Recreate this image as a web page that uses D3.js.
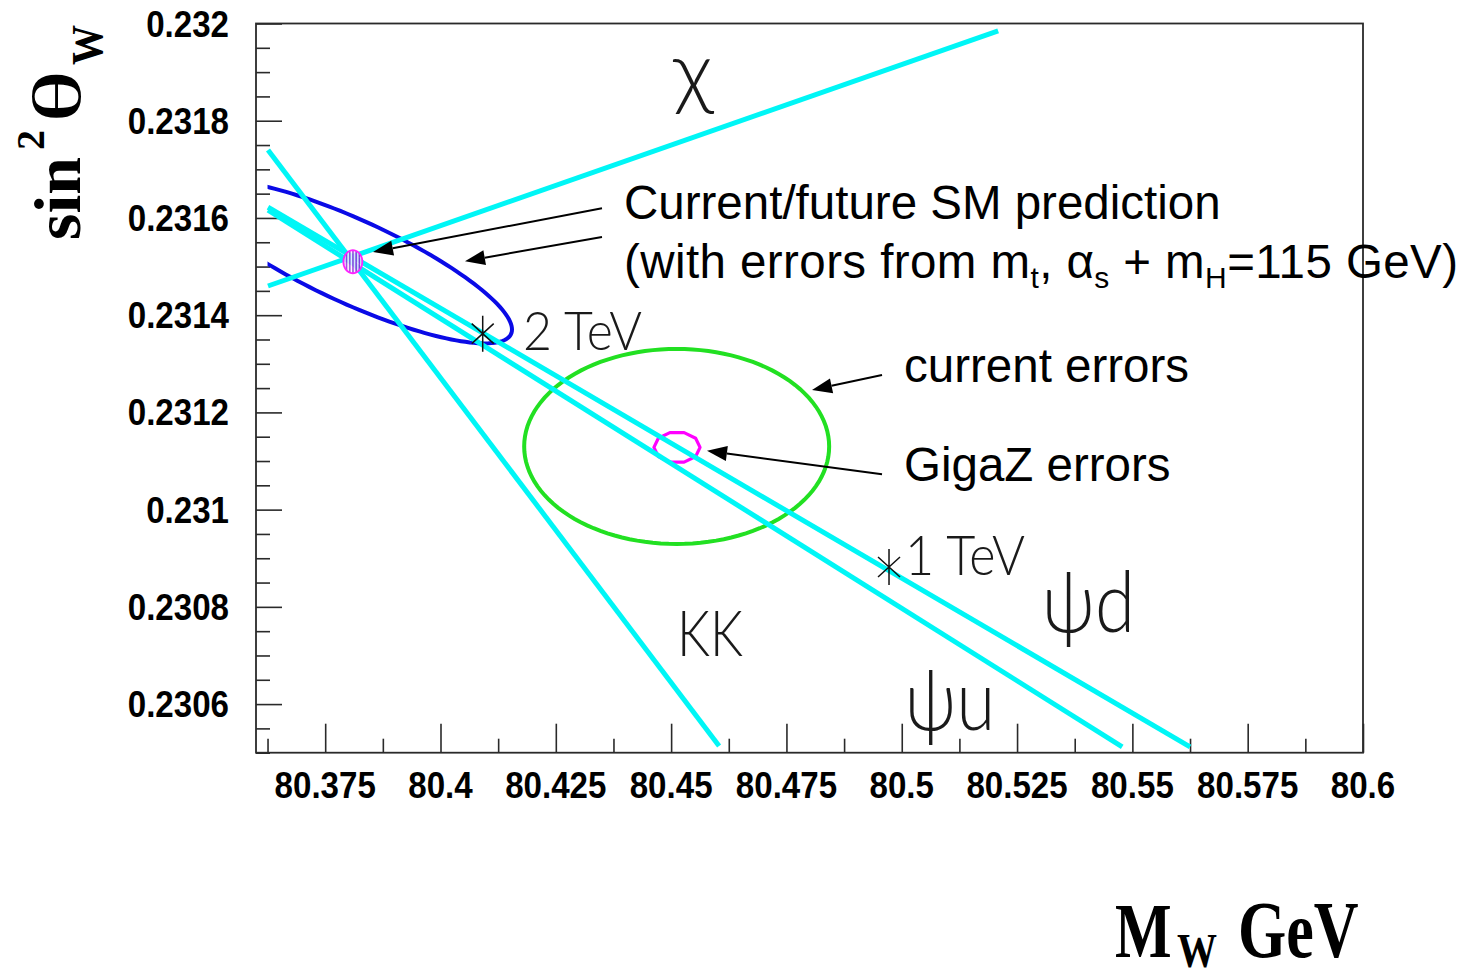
<!DOCTYPE html>
<html>
<head>
<meta charset="utf-8">
<script src="https://cdn.jsdelivr.net/npm/d3@7"></script>
<style>
  body { margin: 0; background: #fff; }
  svg { display: block; }
</style>
</head>
<body>
<svg id="chart" width="1467" height="979"></svg>
<script>
// ---- Axis ranges and tick labels ----
const xDomain = [80.36, 80.6];
const yDomain = [0.2305, 0.232];
const xTickLabels = ["80.375", "80.4", "80.425", "80.45", "80.475", "80.5", "80.525", "80.55", "80.575", "80.6"];
const yTickLabels = ["0.2306", "0.2308", "0.231", "0.2312", "0.2314", "0.2316", "0.2318", "0.232"];

// ---- Z' model lines (M_W, sin^2 theta_W) from start to end ----
const modelNames = ["χ", "KK", "ψd", "ψu"];
const modelStart = [[80.3626, 0.23146], [80.3626, 0.23174], [80.3626, 0.231622], [80.3626, 0.231616]];
const modelEnd   = [[80.5209, 0.231985], [80.4604, 0.230514], [80.5625, 0.230512], [80.5478, 0.230512]];
const curveXmin = 80.3625;

// ---- Z' mass points along the psi line ----
const massLabels = ["2 TeV", "1 TeV"];
const massPoints = [[80.40915, 0.231362], [80.49724, 0.230882]];

// ---- Error contours: centre, sigma (M_W, sin^2), correlation ----
const smCenter = [80.381, 0.23151];
const smSigma = [0.0345, 0.000168];
const smRho = -0.83;

const smFutureSigma = [0.00206, 0.0000237];

const currentCenter = [80.4512, 0.23113];
const currentSigma = [0.03306, 0.0002006];

const gigazCenter = [80.45127, 0.231128];
const gigazSigma = [0.0050, 0.0000319];

// ---- Annotation arrows: tail, head (data coordinates) ----
const arrowTails = [[80.43501, 0.231620], [80.43501, 0.231561], [80.49572, 0.231277], [80.49572, 0.231073]];
const arrowHeads = [[80.38537, 0.231530], [80.40531, 0.231511], [80.48054, 0.231246], [80.45778, 0.231121]];

// ---- Layout ----
const svg = d3.select("#chart");
const plot = { left: 256, right: 1363, top: 23.5, bottom: 752.7 };
const x = d3.scaleLinear().domain(xDomain).range([plot.left, plot.right]);
const y = d3.scaleLinear().domain(yDomain).range([plot.bottom, plot.top]);

const defs = svg.append("defs");
defs.append("clipPath").attr("id", "curveClip")
  .append("rect")
  .attr("x", x(curveXmin)).attr("y", plot.top)
  .attr("width", plot.right - x(curveXmin)).attr("height", plot.bottom - plot.top);

const hatch = defs.append("pattern").attr("id", "vhatch")
  .attr("patternUnits", "userSpaceOnUse").attr("width", 3.2).attr("height", 10);
hatch.append("rect").attr("width", 3.2).attr("height", 10).attr("fill", "#ffffff");
hatch.append("line").attr("x1", 1).attr("x2", 1).attr("y1", 0).attr("y2", 10)
  .attr("stroke", "#8a1ad8").attr("stroke-width", 1.6);

// ---- Frame and ticks ----
const xMajor = xTickLabels.map(Number);
const xMinor = d3.range(0, 20).map(i => +(80.3625 + i * 0.025).toFixed(4)).filter(v => v < 80.6);
const yMajor = yTickLabels.map(Number);
const yMinor = d3.range(0, 31).map(i => +(0.2305 + i * 0.00005).toFixed(5))
  .filter(v => v < 0.232 && !yMajor.some(m => Math.abs(m - v) < 1e-7));

function styleAxis(g) {
  g.select(".domain").remove();
  g.selectAll(".tick line").attr("stroke", "#2a2a2a").attr("stroke-width", 1.6);
  g.selectAll(".tick text").remove();
}

svg.append("g").attr("transform", `translate(0,${plot.bottom})`)
  .call(d3.axisBottom(x).tickValues(xMajor).tickSize(-29).tickFormat(""))
  .call(styleAxis);
svg.append("g").attr("transform", `translate(0,${plot.bottom})`)
  .call(d3.axisBottom(x).tickValues(xMinor).tickSize(-14).tickFormat(""))
  .call(styleAxis);
svg.append("g").attr("transform", `translate(${plot.left},0)`)
  .call(d3.axisLeft(y).tickValues(yMajor).tickSize(-26).tickFormat(""))
  .call(styleAxis);
svg.append("g").attr("transform", `translate(${plot.left},0)`)
  .call(d3.axisLeft(y).tickValues(yMinor).tickSize(-14).tickFormat(""))
  .call(styleAxis);

svg.append("rect")
  .attr("x", plot.left).attr("y", plot.top)
  .attr("width", plot.right - plot.left).attr("height", plot.bottom - plot.top)
  .attr("fill", "none").attr("stroke", "#2a2a2a").attr("stroke-width", 1.8);

// Tick labels
const tickFont = "'Liberation Sans', Arial, sans-serif";
svg.append("g").selectAll("text").data(xTickLabels).join("text")
  .attr("transform", d => `translate(${x(+d)},798) scale(0.92,1.05)`)
  .attr("text-anchor", "middle")
  .attr("font-family", tickFont).attr("font-weight", "bold").attr("font-size", 36)
  .attr("fill", "#000").text(d => d);
svg.append("g").selectAll("text").data(yTickLabels).join("text")
  .attr("transform", d => `translate(229,${y(+d) + 13}) scale(0.92,1.05)`)
  .attr("text-anchor", "end")
  .attr("font-family", tickFont).attr("font-weight", "bold").attr("font-size", 36)
  .attr("fill", "#000").text(d => d);

// ---- Ellipse helper ----
function ellipsePoints(center, sigma, rho, n) {
  const s = Math.sqrt(1 - rho * rho);
  return d3.range(n).map(i => {
    const t = (i / n) * 2 * Math.PI;
    return [center[0] + sigma[0] * Math.cos(t),
            center[1] + sigma[1] * (rho * Math.cos(t) + s * Math.sin(t))];
  });
}
const closedLine = d3.line().x(d => x(d[0])).y(d => y(d[1])).curve(d3.curveLinearClosed);

// Current errors (green)
svg.append("path")
  .attr("d", closedLine(ellipsePoints(currentCenter, currentSigma, 0, 120)))
  .attr("fill", "none").attr("stroke", "#22e022").attr("stroke-width", 4);

// Current/future SM prediction (blue)
svg.append("path")
  .attr("clip-path", "url(#curveClip)")
  .attr("d", closedLine(ellipsePoints(smCenter, smSigma, smRho, 160)))
  .attr("fill", "none").attr("stroke", "#0a0ae6").attr("stroke-width", 4);

// GigaZ errors (magenta, coarse polygon)
svg.append("path")
  .attr("d", closedLine(ellipsePoints(gigazCenter, gigazSigma, 0, 10)))
  .attr("fill", "none").attr("stroke", "#ff00ff").attr("stroke-width", 3.2)
  .attr("stroke-linejoin", "round");

// Model lines (cyan)
svg.append("g").selectAll("line").data(modelNames).join("line")
  .attr("x1", (d, i) => x(modelStart[i][0])).attr("y1", (d, i) => y(modelStart[i][1]))
  .attr("x2", (d, i) => x(modelEnd[i][0])).attr("y2", (d, i) => y(modelEnd[i][1]))
  .attr("stroke", "#00f6f6").attr("stroke-width", 5);

// Future SM prediction (small hatched contour)
svg.append("path")
  .attr("d", closedLine(ellipsePoints(smCenter, smFutureSigma, 0, 40)))
  .attr("fill", "url(#vhatch)").attr("fill-opacity", 0.85)
  .attr("stroke", "#ff22ff").attr("stroke-width", 1.8);

// Mass markers (asterisks)
const star = svg.append("g").selectAll("g").data(massPoints).join("g")
  .attr("transform", d => `translate(${x(d[0])},${y(d[1])})`);
star.append("path")
  .attr("d", "M0,-18L0,18M-11,-10L11,10M-11,10L11,-10")
  .attr("stroke", "#111").attr("stroke-width", 1.5).attr("fill", "none");

// Thin labels for models and masses
const thinFont = "Lato, 'DejaVu Sans', sans-serif";
const thinLabels = [
  { t: modelNames[0], x: 673, y: 100, size: 80, w: 40 },
  { t: modelNames[1], x: 677, y: 656, size: 64, w: 66 },
  { t: modelNames[2], x: 1042, y: 632, size: 84, w: 93 },
  { t: modelNames[3], x: 905, y: 730, size: 84, w: 90 },
  { t: massLabels[0], x: 523, y: 350, size: 53, w: 119 },
  { t: massLabels[1], x: 905, y: 575, size: 55, w: 120 }
];
svg.append("g").selectAll("text").data(thinLabels).join("text")
  .attr("x", d => d.x).attr("y", d => d.y)
  .attr("font-family", thinFont).attr("font-weight", 300)
  .attr("font-size", d => d.size)
  .attr("textLength", d => d.w).attr("lengthAdjust", "spacingAndGlyphs")
  .attr("fill", "#1a1a1a").text(d => d.t);

// ---- Annotation arrows ----
const arrows = svg.append("g");
arrowTails.forEach((tail, i) => {
  const x0 = x(tail[0]), y0 = y(tail[1]);
  const x1 = x(arrowHeads[i][0]), y1 = y(arrowHeads[i][1]);
  const ang = Math.atan2(y1 - y0, x1 - x0);
  const L = 20, Wd = 7.5;
  const bx = x1 - L * Math.cos(ang), by = y1 - L * Math.sin(ang);
  arrows.append("line")
    .attr("x1", x0).attr("y1", y0).attr("x2", bx).attr("y2", by)
    .attr("stroke", "#000").attr("stroke-width", 2);
  arrows.append("path")
    .attr("d", `M${x1},${y1}L${bx - Wd * Math.sin(ang)},${by + Wd * Math.cos(ang)}L${bx + Wd * Math.sin(ang)},${by - Wd * Math.cos(ang)}Z`)
    .attr("fill", "#000");
});

// ---- Annotation text ----
const noteFont = "'Liberation Sans', Arial, sans-serif";
const notes = svg.append("g").attr("font-family", noteFont).attr("font-size", 47.5).attr("fill", "#000");
notes.append("text").attr("x", 624).attr("y", 219).text("Current/future SM prediction");
const l2 = notes.append("text").attr("x", 624).attr("y", 278)
  .attr("textLength", 834).attr("lengthAdjust", "spacing");
l2.append("tspan").text("(with errors from m");
l2.append("tspan").attr("font-size", 30).attr("dy", 10).text("t");
l2.append("tspan").attr("dy", -10).text(", α");
l2.append("tspan").attr("font-size", 30).attr("dy", 10).text("s");
l2.append("tspan").attr("dy", -10).text(" + m");
l2.append("tspan").attr("font-size", 30).attr("dy", 10).text("H");
l2.append("tspan").attr("dy", -10).text("=115 GeV)");
notes.append("text").attr("x", 904).attr("y", 382).text("current errors");
notes.append("text").attr("x", 904).attr("y", 481).text("GigaZ errors");

// ---- Axis titles ----
const serif = "'Liberation Serif', 'Times New Roman', serif";
const xt = svg.append("g").attr("font-family", serif).attr("font-weight", "bold").attr("fill", "#000");
xt.append("text").attr("transform", "translate(1115,957) scale(1,1.3)").attr("font-size", 60).text("M");
xt.append("text").attr("transform", "translate(1177,967) scale(1,1.2)").attr("font-size", 40).text("W");
xt.append("text").attr("transform", "translate(1238,957) scale(1,1.3)").attr("font-size", 62).text("GeV");

const yt = svg.append("g").attr("transform", "translate(80,240) rotate(-90)")
  .attr("font-family", serif).attr("font-weight", "bold").attr("fill", "#000");
yt.append("text").attr("x", 0).attr("y", 0).attr("font-size", 66).attr("textLength", 83)
  .attr("lengthAdjust", "spacingAndGlyphs").text("sin");
yt.append("text").attr("x", 90).attr("y", -36).attr("font-size", 40).text("2");
yt.append("text").attr("x", 117).attr("y", 0).attr("font-size", 68).attr("font-weight", "normal")
  .attr("textLength", 53).attr("lengthAdjust", "spacingAndGlyphs").text("θ");
yt.append("text").attr("x", 175).attr("y", 22).attr("font-size", 44).attr("textLength", 40)
  .attr("lengthAdjust", "spacingAndGlyphs").text("W");
</script>
</body>
</html>
